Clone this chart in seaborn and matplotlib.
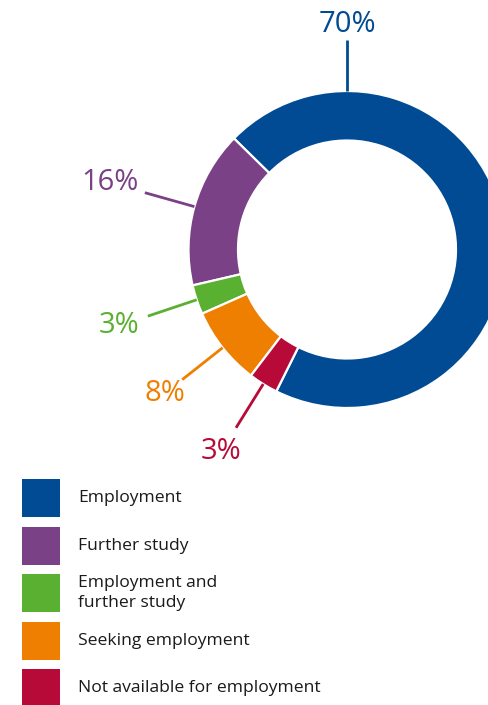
import numpy as np
import matplotlib
matplotlib.use("Agg")
import matplotlib.pyplot as plt
import seaborn as sns
from matplotlib.patches import Rectangle

# Data
categories = [
    "Employment",
    "Further study",
    "Employment and\nfurther study",
    "Seeking employment",
    "Not available for employment",
]
shares = [70, 16, 3, 8, 3]
share_labels = ["70%", "16%", "3%", "8%", "3%"]
colors = ["#004B93", "#7A4187", "#5AB031", "#EF7F00", "#B80A38"]

# Style
sns.set_theme(style="white")
plt.rcParams["font.family"] = ["Open Sans", "DejaVu Sans"]
palette = sns.color_palette(colors)

W, H = 488, 705
fig = plt.figure(figsize=(W / 100, H / 100), dpi=100)
ax = fig.add_axes([0, 0, 1, 1])

# donut geometry (pixel-like units, y up)
cx, cy = 347, H - 249.5
r_out = 158.5
ring = 49.5

wedges, _ = ax.pie(
    shares,
    colors=palette,
    startangle=243.5,
    counterclock=True,
    radius=r_out,
    center=(cx, cy),
    wedgeprops=dict(width=ring, edgecolor="white", linewidth=1.6),
)

# leader lines + percentage labels
r_line = 210
r_text = [225, 246, 240, 232, 238]
for i, w in enumerate(wedges):
    ang = 90 if i == 0 else (w.theta1 + w.theta2) / 2
    a = np.deg2rad(ang)
    ux, uy = np.cos(a), np.sin(a)
    ax.plot([cx + r_out * ux, cx + r_line * ux],
            [cy + r_out * uy, cy + r_line * uy],
            color=palette[i], lw=2, solid_capstyle="butt")
    ax.text(cx + r_text[i] * ux, cy + r_text[i] * uy, share_labels[i],
            color=palette[i], fontsize=21, ha="center", va="center")

# legend
sq = 38
x0 = 22
tops = [479, 527, 574, 622, 669]
for i, cat in enumerate(categories):
    top = tops[i]
    ax.add_patch(Rectangle((x0, H - top - sq), sq, sq,
                           facecolor=palette[i], edgecolor="none"))
    ax.text(78, H - top - sq / 2, cat, fontsize=12.6, color="#1a1a1a",
            ha="left", va="center", linespacing=1.3)

ax.set_xlim(0, W)
ax.set_ylim(0, H)
ax.set_aspect("equal")
ax.axis("off")

fig.savefig("out.png", dpi=100, facecolor="white")
